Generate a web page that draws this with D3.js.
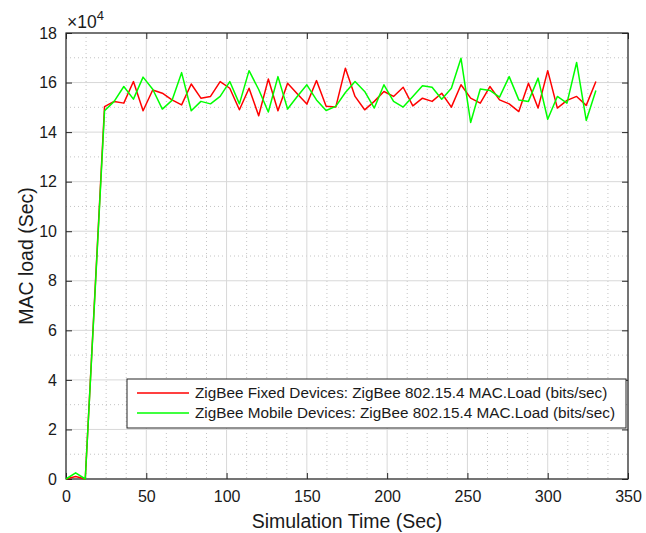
<!DOCTYPE html>
<html>
<head>
<meta charset="utf-8">
<script src="https://cdn.jsdelivr.net/npm/d3@7"></script>
<style>
  body { margin: 0; background: #fff; }
  svg { font-family: Arial, "Liberation Sans", Helvetica, sans-serif; }
</style>
</head>
<body>
<svg id="chart" width="646" height="533"></svg>
<script>
// Simulation time (sec) of each sample
const times = [0, 6, 12, 24, 30, 36, 42, 48, 54, 60, 66, 72, 78, 84, 90, 96, 102, 108, 114, 120,
  126, 132, 138, 144, 150, 156, 162, 168, 174, 180, 186, 192, 198, 204, 210, 216, 222, 228, 234, 240,
  246, 252, 258, 264, 270, 276, 282, 288, 294, 300, 306, 312, 318, 324, 330];

// MAC load (bits/sec), fixed devices
const fixedLoad = [0, 1000, 0, 150300, 152400, 151700, 160400, 148600, 157000, 155700,
  153000, 151000, 159400, 153700, 154400, 160400, 157700, 149000, 157700, 146600,
  161400, 148600, 159700, 155500, 151300, 160800, 150400, 150100, 165800, 154400,
  149000, 152400, 156400, 154400, 158100, 150600, 153700, 152400, 155700, 150100,
  159100, 153700, 151700, 158400, 153000, 151400, 148300, 159700, 149700, 164800,
  149700, 152800, 154400, 150800, 160400];

// MAC load (bits/sec), mobile devices
const mobileLoad = [0, 2500, 0, 148600, 152400, 158400, 153300, 162200, 157300, 149300,
  152800, 164000, 148600, 152400, 151400, 154400, 160400, 151400, 164800, 157200,
  148100, 162400, 149300, 154400, 159100, 153000, 148700, 150400, 156000, 160400,
  156400, 149700, 159100, 152400, 150100, 154400, 158700, 158100, 153300, 157700,
  169800, 143900, 157400, 156800, 154100, 162400, 153000, 152400, 161800, 145200,
  154400, 151700, 168100, 144700, 156800];

const xTicks = [0, 50, 100, 150, 200, 250, 300, 350];
const yTicks = [0, 20000, 40000, 60000, 80000, 100000, 120000, 140000, 160000, 180000];
const legendLabels = [
  'ZigBee Fixed Devices: ZigBee 802.15.4 MAC.Load (bits/sec)',
  'ZigBee Mobile Devices: ZigBee 802.15.4 MAC.Load (bits/sec)'
];

const margin = { top: 33, right: 18, bottom: 54, left: 66 };
const width = 646 - margin.left - margin.right;
const height = 533 - margin.top - margin.bottom;

const svg = d3.select('#chart');
const g = svg.append('g').attr('transform', `translate(${margin.left},${margin.top})`);

const x = d3.scaleLinear().domain([0, 350]).range([0, width]);
const y = d3.scaleLinear().domain([0, 180000]).range([height, 0]);

// minor grid (dotted)
const xMinor = d3.range(0, 350.01, 12.5).filter(v => v % 50 !== 0);
const yMinor = d3.range(0, 180001, 10000).filter(v => v % 20000 !== 0);
g.append('g').selectAll('line').data(xMinor).join('line')
  .attr('x1', d => x(d)).attr('x2', d => x(d)).attr('y1', 0).attr('y2', height)
  .attr('stroke', '#c4c4c4').attr('stroke-width', 1).attr('stroke-dasharray', '1,3');
g.append('g').selectAll('line').data(yMinor).join('line')
  .attr('y1', d => y(d)).attr('y2', d => y(d)).attr('x1', 0).attr('x2', width)
  .attr('stroke', '#c4c4c4').attr('stroke-width', 1).attr('stroke-dasharray', '1,3');

// major grid
g.append('g').selectAll('line').data(xTicks).join('line')
  .attr('x1', d => x(d)).attr('x2', d => x(d)).attr('y1', 0).attr('y2', height)
  .attr('stroke', '#d8d8d8').attr('stroke-width', 1);
g.append('g').selectAll('line').data(yTicks).join('line')
  .attr('y1', d => y(d)).attr('y2', d => y(d)).attr('x1', 0).attr('x2', width)
  .attr('stroke', '#d8d8d8').attr('stroke-width', 1);

// axes, ticks pointing inward
const axisColor = '#262626';
function styleAxis(sel) {
  sel.select('.domain').remove();
  sel.selectAll('.tick line').attr('stroke', axisColor);
  sel.selectAll('.tick text').attr('fill', '#1a1a1a').style('font-size', '16px');
}
g.append('g').attr('transform', `translate(0,${height})`)
  .call(d3.axisBottom(x).tickValues(xTicks).tickSizeInner(-6).tickSizeOuter(0).tickPadding(12))
  .call(styleAxis);
g.append('g')
  .call(d3.axisLeft(y).tickValues(yTicks).tickFormat(d => d / 10000).tickSizeInner(-6).tickSizeOuter(0).tickPadding(9))
  .call(styleAxis);
g.append('g')
  .call(d3.axisTop(x).tickValues(xTicks).tickSizeInner(-6).tickSizeOuter(0).tickFormat(''))
  .call(styleAxis);
g.append('g').attr('transform', `translate(${width},0)`)
  .call(d3.axisRight(y).tickValues(yTicks).tickSizeInner(-6).tickSizeOuter(0).tickFormat(''))
  .call(styleAxis);

g.append('rect').attr('width', width).attr('height', height)
  .attr('fill', 'none').attr('stroke', axisColor).attr('stroke-width', 1.2);

// series
const line = d3.line().x(d => x(d[0])).y(d => y(d[1]));
const series = [
  { values: fixedLoad, color: '#ff0000' },
  { values: mobileLoad, color: '#00ff00' }
];
series.forEach(s => {
  g.append('path')
    .datum(times.map((t, i) => [t, s.values[i]]))
    .attr('d', line)
    .attr('fill', 'none')
    .attr('stroke', s.color)
    .attr('stroke-width', 1.5)
    .attr('stroke-linejoin', 'round');
});

// exponent label
const expo = svg.append('text').attr('x', margin.left + 1).attr('y', 28)
  .attr('fill', '#1a1a1a').style('font-size', '17.5px');
expo.append('tspan').text('\u00d710');
expo.append('tspan').attr('dy', -8).style('font-size', '13px').text('4');

// legend
const lg = svg.append('g').attr('transform', 'translate(127,379)');
lg.append('rect').attr('width', 499).attr('height', 49)
  .attr('fill', '#fff').attr('stroke', axisColor).attr('stroke-width', 1);
legendLabels.forEach((lab, i) => {
  const ly = 14 + i * 20;
  lg.append('line').attr('x1', 10).attr('x2', 62).attr('y1', ly).attr('y2', ly)
    .attr('stroke', series[i].color).attr('stroke-width', 1.5);
  lg.append('text').attr('x', 68).attr('y', ly + 5).attr('fill', '#1a1a1a')
    .style('font-size', '15.3px').text(lab);
});

// axis titles
svg.append('text').attr('x', margin.left + width / 2).attr('y', 528)
  .attr('text-anchor', 'middle').attr('fill', '#1a1a1a').style('font-size', '19.5px')
  .text('Simulation Time (Sec)');
svg.append('text')
  .attr('transform', `translate(33,${margin.top + height / 2}) rotate(-90)`)
  .attr('text-anchor', 'middle').attr('fill', '#1a1a1a').style('font-size', '19.5px')
  .text('MAC load (Sec)');
</script>
</body>
</html>
